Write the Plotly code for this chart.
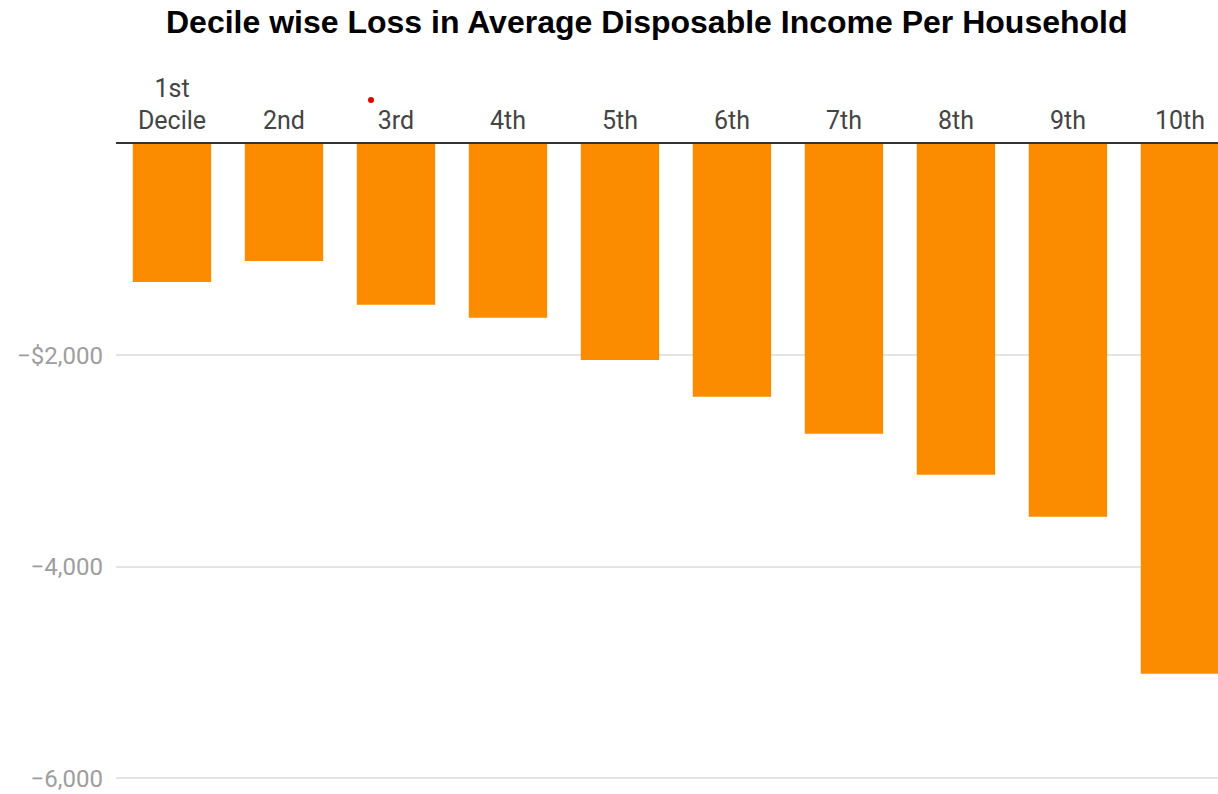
import plotly.graph_objects as go

categories = ["1st<br>Decile", "2nd", "3rd", "4th", "5th", "6th", "7th", "8th", "9th", "10th"]
loss = [-1305, -1106, -1522, -1645, -2043, -2392, -2742, -3130, -3527, -5012]
tick_vals = [-2000, -4000, -6000]
tick_text = ["\u2212$2,000", "\u22124,000", "\u22126,000"]

fig = go.Figure()
fig.add_trace(go.Bar(
    x=categories, y=loss,
    marker=dict(color="#FB8C00", line=dict(width=0)),
    width=0.70,
))

fig.update_layout(
    width=1218, height=794,
    paper_bgcolor="white", plot_bgcolor="white",
    margin=dict(l=116, r=0, t=144, b=0),
    showlegend=False,
    title=dict(
        text="<b>Decile wise Loss in Average Disposable Income Per Household</b>",
        x=0.531, xanchor="center", y=0.972, yanchor="middle",
        font=dict(family="Liberation Sans, Arial", size=32, color="black"),
    ),
    xaxis=dict(
        side="top", range=[-0.5, 9.34],
        showline=True, linecolor="#333333", linewidth=2,
        showgrid=False, ticks="",
        ticklabelstandoff=3,
        tickfont=dict(family="Roboto", size=25, color="#444444"),
    ),
    yaxis=dict(
        range=[-6150, 0],
        tickvals=tick_vals, ticktext=tick_text,
        showgrid=True, gridcolor="#e4e4e4", gridwidth=2,
        zeroline=False, showline=False, ticks="",
        ticklabelstandoff=12,
        tickfont=dict(family="Roboto", size=24, color="#9e9e9e"),
    ),
    bargap=0.3,
)

fig.add_shape(type="circle", xref="paper", yref="paper",
              x0=(368 - 116) / 1102, x1=(374 - 116) / 1102,
              y0=1 + (144 - 103) / 650, y1=1 + (144 - 97) / 650,
              fillcolor="#e00000", line=dict(width=0))

fig.write_html("out.html", config={"displayModeBar": False},
               post_script="document.body.style.margin='0';document.body.style.overflow='hidden';")
